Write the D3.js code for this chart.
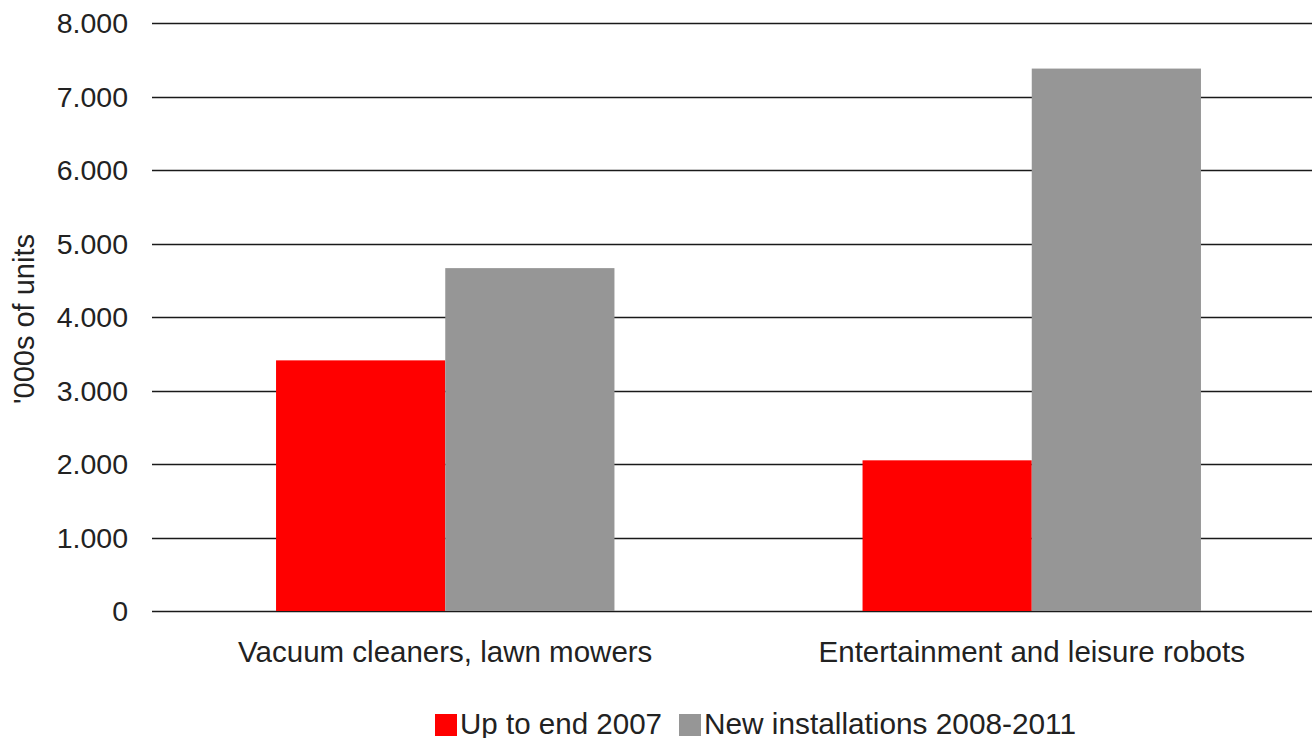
<!DOCTYPE html>
<html>
<head>
<meta charset="utf-8">
<script src="https://cdn.jsdelivr.net/npm/d3@7"></script>
<style>
  body { margin: 0; background: #fff; overflow: hidden; }
  svg { display: block; font-family: "Liberation Sans", Arial, sans-serif; }
</style>
</head>
<body>
<svg id="chart" width="1312" height="738"></svg>
<script>
// data
var categories = ["Vacuum cleaners, lawn mowers", "Entertainment and leisure robots"];
var seriesNames = ["Up to end 2007", "New installations 2008-2011"];
var upTo2007 = [3410, 2050];
var new2008_2011 = [4665, 7380];
var yTicks = [0, 1000, 2000, 3000, 4000, 5000, 6000, 7000, 8000];
var colours = ["#ff0000", "#969696"];

var svg = d3.select("#chart"),
  margin = {top: 23, right: -13, bottom: 127, left: 152};

var width = 1312 - margin.left - margin.right,
  height = 738 - margin.top - margin.bottom;

var g = svg.append("g")
  .attr("transform", "translate(" + margin.left + "," + margin.top + ")");

var y = d3.scaleLinear().domain([0, 8000]).range([height, 0]);

var x0 = d3.scaleBand().domain(categories).range([0, width]).paddingInner(0.423).paddingOuter(0.2115);

var x1 = d3.scaleBand().domain(seriesNames).range([0, x0.bandwidth()]);

var fmt = function(d) { return d == 0 ? "0" : d3.format(",")(d).replace(/,/g, "."); };

// gridlines + tick labels
var yAxis = g.append("g").attr("class", "axis axis--y");
yAxis.selectAll("line").data(yTicks).enter().append("line")
  .attr("x1", 0).attr("x2", width)
  .attr("y1", function(d) { return Math.round(y(d)) + 0.5; })
  .attr("y2", function(d) { return Math.round(y(d)) + 0.5; })
  .attr("stroke", "#1a1a1a").attr("stroke-width", 1.6);

yAxis.selectAll("text").data(yTicks).enter().append("text")
  .attr("x", -24)
  .attr("y", function(d) { return y(d) + 10; })
  .attr("text-anchor", "end")
  .attr("font-size", 28.5)
  .attr("fill", "#222")
  .text(fmt);

// bars
var rows = categories.map(function(c, i) {
  return {cat: c, values: [upTo2007[i], new2008_2011[i]]};
});

var grp = g.selectAll(".grp").data(rows).enter().append("g")
  .attr("class", "grp")
  .attr("transform", function(d) { return "translate(" + x0(d.cat) + ",0)"; });

grp.selectAll("rect").data(function(d) {
    return d.values.map(function(v, j) { return {key: seriesNames[j], value: v, j: j}; });
  }).enter().append("rect")
  .attr("x", function(d) { return x1(d.key); })
  .attr("width", x1.bandwidth())
  .attr("y", function(d) { return y(d.value); })
  .attr("height", function(d) { return height - y(d.value); })
  .attr("fill", function(d) { return colours[d.j]; });

// category labels
g.selectAll(".catlabel").data(categories).enter().append("text")
  .attr("class", "catlabel")
  .attr("x", function(d) { return x0(d) + x0.bandwidth() / 2; })
  .attr("y", 662 - margin.top)
  .attr("text-anchor", "middle")
  .attr("font-size", 29.5)
  .attr("fill", "#222")
  .text(function(d) { return d; });

// y axis title
svg.append("text")
  .attr("transform", "translate(34,319) rotate(-90)")
  .attr("text-anchor", "middle")
  .attr("font-size", 29)
  .attr("fill", "#222")
  .text("'000s of units");

// legend
var legend = svg.append("g").attr("transform", "translate(435,714)");
var lx = [0, 244];
var lw = [202, 372];
seriesNames.forEach(function(s, i) {
  legend.append("rect").attr("x", lx[i]).attr("y", 0).attr("width", 22).attr("height", 22).attr("fill", colours[i]);
  legend.append("text").attr("x", lx[i] + 25).attr("y", 19.5)
    .attr("font-size", 30).attr("fill", "#222")
    .attr("textLength", lw[i]).attr("lengthAdjust", "spacingAndGlyphs")
    .text(s);
});
</script>
</body>
</html>
